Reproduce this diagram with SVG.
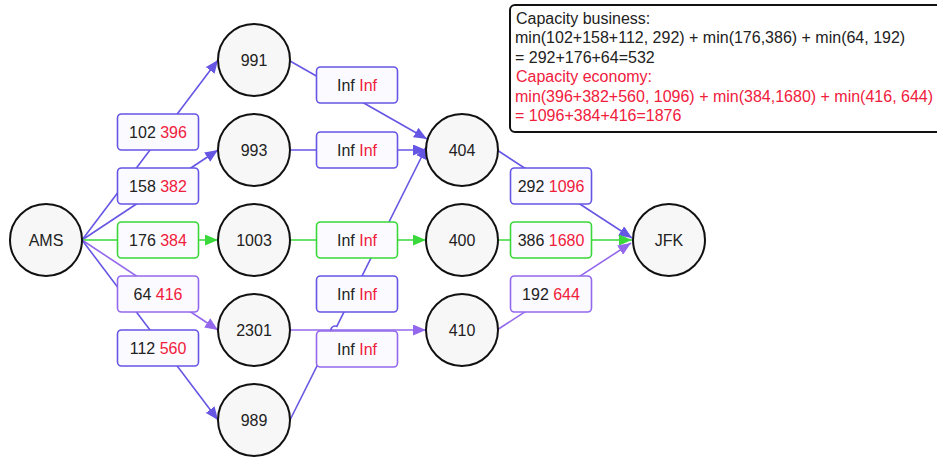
<svg xmlns="http://www.w3.org/2000/svg" width="937" height="457" viewBox="0 0 937 457">
  <style>
    text { font-family: "Liberation Sans", Arial, sans-serif; font-size: 16px; fill: #222; }
    .r { fill: #f0203c; }
    .node circle { fill: #f7f7f7; stroke: #111; stroke-width: 2; }
    .node text { text-anchor: middle; }
    .edge { fill: none; stroke-width: 1.6; }
    .blue { stroke: #6656e4; }
    .green { stroke: #3ad83a; }
    .purple { stroke: #9468ec; }
    .lbl rect { fill: #fbfbff; stroke-width: 1.6; }
    .lbl text { text-anchor: middle; }
    .note rect { fill: #fff; stroke: #111; stroke-width: 2; }
  </style>
  <defs>
    <marker id="arrBlue" markerUnits="userSpaceOnUse" markerWidth="13" markerHeight="11" refX="13" refY="5.5" orient="auto">
      <path d="M0,0 L13,5.5 L0,11 z" fill="#6656e4"/>
    </marker>
    <marker id="arrGreen" markerUnits="userSpaceOnUse" markerWidth="13" markerHeight="11" refX="13" refY="5.5" orient="auto">
      <path d="M0,0 L13,5.5 L0,11 z" fill="#3ad83a"/>
    </marker>
    <marker id="arrPurple" markerUnits="userSpaceOnUse" markerWidth="13" markerHeight="11" refX="13" refY="5.5" orient="auto">
      <path d="M0,0 L13,5.5 L0,11 z" fill="#9468ec"/>
    </marker>
  </defs>

  <!-- connectors: lines first, then their capacity labels -->
  <g id="connectors">
    <path class="edge blue" d="M82,240 L218,60" marker-end="url(#arrBlue)"/>
    <path class="edge blue" d="M82,240 L218,150" marker-end="url(#arrBlue)"/>
    <path class="edge green" d="M82,240 L218,240" marker-end="url(#arrGreen)"/>
    <path class="edge purple" d="M82,240 L218,330" marker-end="url(#arrPurple)"/>
    <path class="edge blue" d="M82,240 L218,420" marker-end="url(#arrBlue)"/>

    <path class="edge blue" d="M290,61 L427,139" marker-end="url(#arrBlue)"/>
    <path class="edge blue" d="M290,150 L426,150" marker-end="url(#arrBlue)"/>
    <path class="edge green" d="M290,240 L426,240" marker-end="url(#arrGreen)"/>
    <path class="edge purple" d="M290,330 L426,330" marker-end="url(#arrPurple)"/>
    <path class="edge blue" d="M290,420 L333.2,333.6 A4,4 0 0 1 336.8,326.4 L427,146" marker-end="url(#arrBlue)"/>

    <path class="edge blue" d="M497,150 L632,238" marker-end="url(#arrBlue)"/>
    <path class="edge green" d="M498,240 L632,240" marker-end="url(#arrGreen)"/>
    <path class="edge purple" d="M497,330 L631,243" marker-end="url(#arrPurple)"/>

    <g class="lbl">
      <rect class="blue" x="117.5" y="114" width="81" height="36" rx="4"/>
      <text x="158" y="137.7">102 <tspan class="r">396</tspan></text>
      <rect class="blue" x="117.5" y="168" width="81" height="36" rx="4"/>
      <text x="158" y="191.7">158 <tspan class="r">382</tspan></text>
      <rect class="green" x="117.5" y="222" width="81" height="36" rx="4"/>
      <text x="158" y="245.7">176 <tspan class="r">384</tspan></text>
      <rect class="purple" x="117.5" y="276" width="81" height="36" rx="4"/>
      <text x="158" y="299.7">64 <tspan class="r">416</tspan></text>
      <rect class="blue" x="117.5" y="330" width="81" height="36" rx="4"/>
      <text x="158" y="353.7">112 <tspan class="r">560</tspan></text>

      <rect class="blue" x="316.5" y="67" width="81" height="36" rx="4"/>
      <text x="357" y="90.7">Inf <tspan class="r">Inf</tspan></text>
      <rect class="blue" x="316.5" y="132" width="81" height="36" rx="4"/>
      <text x="357" y="155.7">Inf <tspan class="r">Inf</tspan></text>
      <rect class="green" x="316.5" y="222" width="81" height="36" rx="4"/>
      <text x="357" y="245.7">Inf <tspan class="r">Inf</tspan></text>
      <rect class="blue" x="316.5" y="276" width="81" height="36" rx="4"/>
      <text x="357" y="299.7">Inf <tspan class="r">Inf</tspan></text>
      <rect class="purple" x="316.5" y="331" width="81" height="36" rx="4"/>
      <text x="357" y="354.7">Inf <tspan class="r">Inf</tspan></text>

      <rect class="blue" x="510.5" y="168" width="81" height="36" rx="4"/>
      <text x="551" y="191.7">292 <tspan class="r">1096</tspan></text>
      <rect class="green" x="510.5" y="222" width="81" height="36" rx="4"/>
      <text x="551" y="245.7">386 <tspan class="r">1680</tspan></text>
      <rect class="purple" x="510.5" y="276" width="81" height="36" rx="4"/>
      <text x="551" y="299.7">192 <tspan class="r">644</tspan></text>
    </g>
  </g>

  <!-- airports and intermediate flights -->
  <g id="node-AMS" class="node"><circle cx="46" cy="240" r="36"/><text x="46" y="245.7">AMS</text></g>
  <g id="node-991" class="node"><circle cx="254" cy="60" r="36"/><text x="254" y="65.7">991</text></g>
  <g id="node-993" class="node"><circle cx="254" cy="150" r="36"/><text x="254" y="155.7">993</text></g>
  <g id="node-1003" class="node"><circle cx="254" cy="240" r="36"/><text x="254" y="245.7">1003</text></g>
  <g id="node-2301" class="node"><circle cx="254" cy="330" r="36"/><text x="254" y="335.7">2301</text></g>
  <g id="node-989" class="node"><circle cx="254" cy="420" r="36"/><text x="254" y="425.7">989</text></g>
  <g id="node-404" class="node"><circle cx="462" cy="150" r="36"/><text x="462" y="155.7">404</text></g>
  <g id="node-400" class="node"><circle cx="462" cy="240" r="36"/><text x="462" y="245.7">400</text></g>
  <g id="node-410" class="node"><circle cx="462" cy="330" r="36"/><text x="462" y="335.7">410</text></g>
  <g id="node-JFK" class="node"><circle cx="669" cy="240" r="36"/><text x="669" y="245.7">JFK</text></g>

  <!-- capacity summary -->
  <g id="note" class="note">
    <rect x="510" y="5" width="440" height="127" rx="5"/>
    <text x="516" y="24">Capacity business:</text>
    <text x="515" y="43.4">min(102+158+112, 292) + min(176,386) + min(64, 192)</text>
    <text x="515" y="62.8">= 292+176+64=532</text>
    <text x="516" y="82.2" class="r">Capacity economy:</text>
    <text x="515" y="101.6" class="r">min(396+382+560, 1096) + min(384,1680) + min(416, 644)</text>
    <text x="515" y="121" class="r">= 1096+384+416=1876</text>
  </g>
</svg>
